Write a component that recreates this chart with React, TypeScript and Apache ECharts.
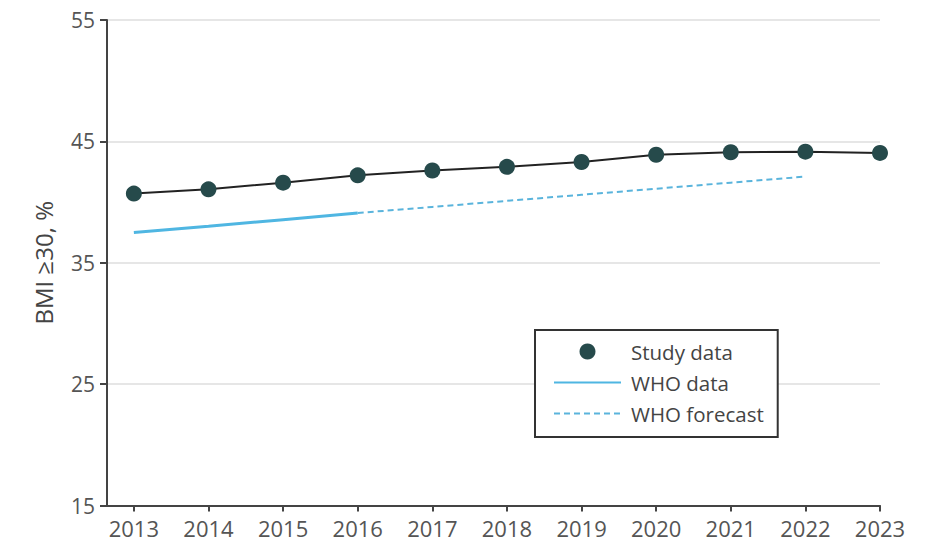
import React, { useEffect, useRef } from "react";
import * as echarts from "echarts";

const years = [2013, 2014, 2015, 2016, 2017, 2018, 2019, 2020, 2021, 2022, 2023];
const studyData = [40.7, 41.05, 41.6, 42.2, 42.6, 42.9, 43.3, 43.9, 44.1, 44.15, 44.05];
const whoYears = [2013, 2014, 2015, 2016];
const whoData = [37.5, 38.0, 38.55, 39.1];
const forecastYears = [2016, 2017, 2018, 2019, 2020, 2021, 2022];
const whoForecast = [39.1, 39.6, 40.1, 40.6, 41.1, 41.6, 42.1];
const yTicks = [15, 25, 35, 45, 55];

const FONT = "'Open Sans', 'Noto Sans', sans-serif";

export default function App() {
  const ref = useRef<HTMLDivElement>(null);
  useEffect(() => {
    if (!ref.current) return;
    const chart = echarts.init(ref.current, null, { renderer: "svg" });
    chart.setOption({
      animation: false,
      backgroundColor: "#ffffff",
      textStyle: { fontFamily: FONT },
      grid: { left: 107, right: 55, top: 20, bottom: 49.5, containLabel: false },
      legend: {
        orient: "vertical",
        left: 535,
        top: 330,
        padding: [11, 14, 13, 18],
        backgroundColor: "#ffffff",
        borderColor: "#333333",
        borderWidth: 2,
        itemWidth: 67,
        itemHeight: 16,
        itemGap: 10,
        textStyle: {
          fontFamily: FONT,
          fontSize: 20.5,
          color: "#444444",
          lineHeight: 20,
          padding: [0, 0, 0, 5],
        },
        data: [
          { name: "Study data", icon: "circle" },
          { name: "WHO data", itemStyle: { opacity: 0 } },
          { name: "WHO forecast", itemStyle: { opacity: 0 } },
        ],
      },
      xAxis: {
        type: "value",
        min: 2012.64,
        max: 2023,
        axisLine: { show: true, lineStyle: { color: "#444444", width: 2 } },
        axisTick: {
          show: true,
          length: 6,
          customValues: years,
          lineStyle: { color: "#444444", width: 2 },
        },
        axisLabel: {
          customValues: years,
          formatter: (v: number) => String(Math.round(v)),
          fontFamily: FONT,
          fontSize: 22,
          color: "#555555",
          margin: 11,
        },
        splitLine: { show: false },
      },
      yAxis: {
        type: "value",
        min: yTicks[0],
        max: yTicks[yTicks.length - 1],
        interval: 10,
        name: "BMI ≥30, %",
        nameLocation: "middle",
        nameGap: 52,
        nameTextStyle: { fontFamily: FONT, fontSize: 24, color: "#444444" },
        axisLine: { show: true, lineStyle: { color: "#444444", width: 2 } },
        axisTick: { show: true, length: 7, lineStyle: { color: "#444444", width: 2 } },
        axisLabel: { fontFamily: FONT, fontSize: 21, color: "#555555", margin: 12 },
        splitLine: { show: true, lineStyle: { color: "#dedede", width: 1.5 } },
      },
      series: [
        {
          name: "WHO data",
          type: "line",
          data: whoYears.map((y, i) => [y, whoData[i]]),
          symbol: "none",
          lineStyle: { color: "#4fb6e2", width: 3 },
          itemStyle: { color: "#4fb6e2" },
          z: 2,
        },
        {
          name: "WHO forecast",
          type: "line",
          data: forecastYears.map((y, i) => [y, whoForecast[i]]),
          symbol: "none",
          lineStyle: { color: "#5ab4dc", width: 2, type: [6, 4] },
          itemStyle: { color: "#5ab4dc" },
          z: 2,
        },
        {
          name: "Study data",
          type: "line",
          data: years.map((y, i) => [y, studyData[i]]),
          symbol: "circle",
          symbolSize: 16,
          lineStyle: { color: "#222222", width: 2 },
          itemStyle: { color: "#264a4b" },
          z: 3,
        },
      ],
    });
    return () => chart.dispose();
  }, []);
  return (
    <div
      ref={ref}
      style={{ position: "fixed", left: 0, top: 0, width: 935, height: 555 }}
    />
  );
}
